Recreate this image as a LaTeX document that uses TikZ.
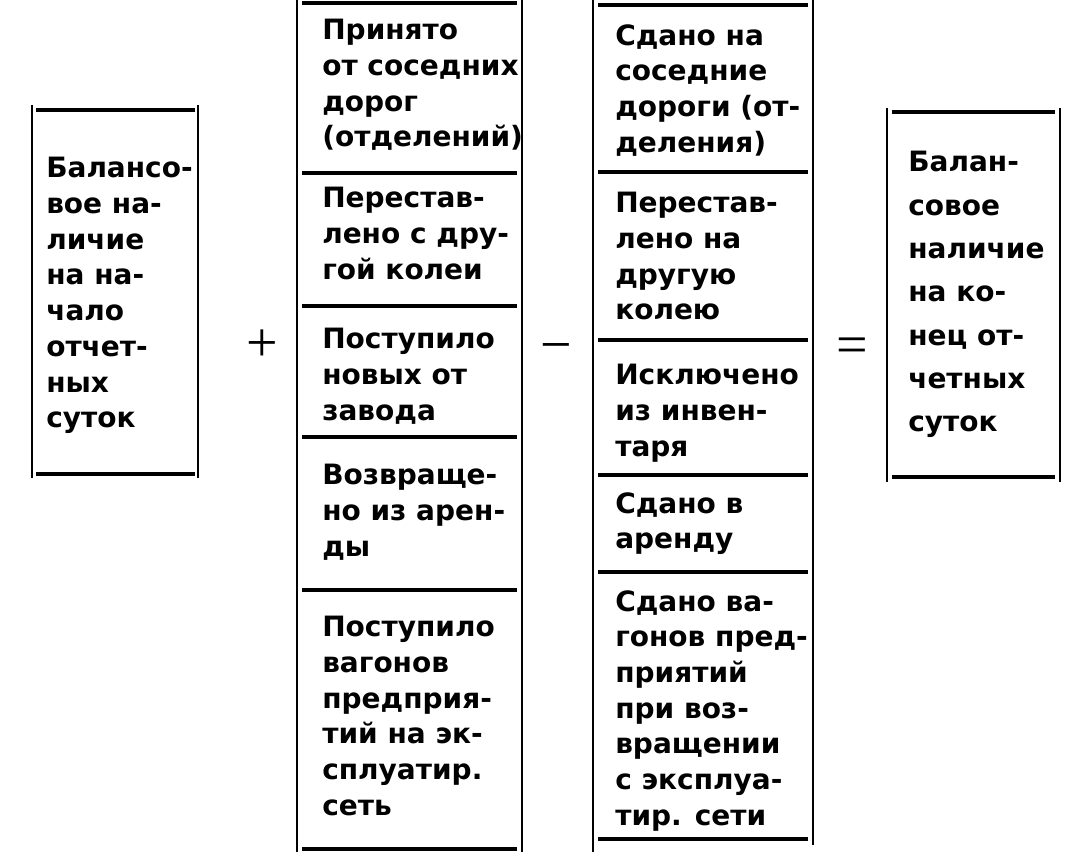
\documentclass[tikz,border=0pt]{standalone}
\usepackage{fontspec}
\setmainfont{DejaVu Sans}
\newfontfamily\opfont{Liberation Serif}
\newcommand{\cellfont}{\fontsize{21}{26.8}\selectfont\bfseries}
\newcommand{\tallfont}{\fontsize{21}{32.5}\selectfont\bfseries}
\tikzset{
  cell/.style={anchor=north west, align=left, inner sep=0pt, font=\cellfont},
  tallcell/.style={cell, font=\tallfont},
  rule/.style={line width=2.8pt},
  side/.style={line width=1.9pt},
  op/.style={inner sep=0pt, font=\opfont\fontsize{42}{42}\selectfont}
}
\begin{document}
\begin{tikzpicture}[x=0.75pt,y=-0.75pt]
\useasboundingbox (0,0) rectangle (1072,852);
\node[cell] (nachalo) at (46,157) {Балансо-\\вое на-\\личие\\на на-\\чало\\отчет-\\ных\\суток};
\draw[side] (32,105) -- (32,478);
\draw[side] (198,105) -- (198,478);
\foreach \y in {110,474} \draw[rule] (36,\y) -- (195,\y);
\node[op] (plus) at (262,346) {+};
\node[cell] (prinyato) at (322,19) {Принято\\от соседних\\дорог\\(отделений)};
\node[cell] (perestavl) at (322,187) {Перестав-\\лено с дру-\\гой колеи};
\node[cell] (novye) at (322,328) {Поступило\\новых от\\завода};
\node[cell] (arenda) at (322,464) {Возвраще-\\но из арен-\\ды};
\node[cell] (predpr) at (322,616) {Поступило\\вагонов\\предприя-\\тий на эк-\\сплуатир.\\сеть};
\draw[side] (297,0) -- (297,852);
\draw[side] (522,0) -- (522,852);
\foreach \y in {3,173,306,437,590,849} \draw[rule] (302,\y) -- (517,\y);
\node[op] (minus) at (556,354) {−};
\node[cell] (sdano) at (615,24) {Сдано на\\соседние\\дороги (от-\\деления)};
\node[cell] (perestavl2) at (615,192) {Перестав-\\лено на\\другую\\колею};
\node[cell] (isklyuch) at (615,364) {Исключено\\из инвен-\\таря};
\node[cell] (arenda2) at (615,492) {Сдано в\\аренду};
\node[cell] (predpr2) at (615,590) {Сдано ва-\\гонов пред-\\приятий\\при воз-\\вращении\\с эксплуа-\\тир. сети};
\draw[side] (593,0) -- (593,852);
\draw[side] (813,0) -- (813,845);
\foreach \y in {5,172,340,475,572,839} \draw[rule] (598,\y) -- (808,\y);
\node[op] (ravno) at (852,351) {=};
\node[tallcell] (konec) at (908,151) {Балан-\\совое\\наличие\\на ко-\\нец от-\\четных\\суток};
\draw[side] (887,108) -- (887,482);
\draw[side] (1060,108) -- (1060,482);
\foreach \y in {112,477} \draw[rule] (892,\y) -- (1055,\y);
\end{tikzpicture}
\end{document}
